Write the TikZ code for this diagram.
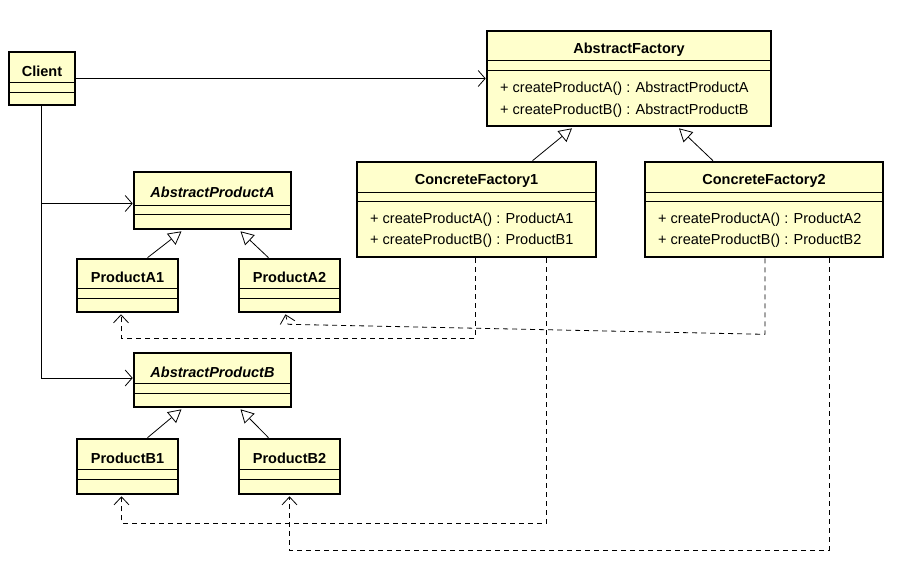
\documentclass[tikz,border=0pt]{standalone}
\usepackage{fontspec}
\setmainfont{Liberation Sans}
\usetikzlibrary{arrows.meta,calc}
\definecolor{clsfill}{RGB}{255,255,204}
\newcommand\umlcls[9]{%
  \node[cls, minimum width={(#4-#2)*1pt}, minimum height={(#5-#3)*1pt}] (#1) at ({(#2+#4)/2},{(#3+#5)/2}) {};
  \draw[cline] (#2,#6) -- (#4,#6) (#2,#7) -- (#4,#7);
  \node[#8] (#1-name) at ({(#2+#4)/2},{(#3+#6)/2+4}) {#9};
}
\begin{document}
\begin{tikzpicture}[x=1pt,y=-1pt,
  cls/.style={draw=black, line width=2.6pt, fill=clsfill, inner sep=0pt, rectangle},
  cline/.style={line width=0.9pt},
  ttl/.style={font=\fontsize{14.5}{17}\selectfont\bfseries, inner sep=0pt},
  ttli/.style={font=\fontsize{14.5}{17}\selectfont\bfseries\itshape, inner sep=0pt},
  op/.style={font=\fontsize{14.5}{17}\selectfont, inner sep=0pt, anchor=west},
  assoc/.style={line width=0.8pt, -{Straight Barb[length=7pt,width=16pt,line width=0.8pt]}},
  gen/.style={line width=0.8pt, -{Triangle[open,length=13pt,width=14pt,fill=white,line width=0.8pt]}},
  dep/.style={line width=0.8pt, dash pattern=on 5pt off 4pt, -{Straight Barb[length=8pt,width=15pt,line width=0.8pt]}},
]
\useasboundingbox (0,0) rectangle (901,574);

% classes
\umlcls{client}{9}{52}{75}{105}{82.5}{92}{ttl}{Client}
\umlcls{af}{487}{31}{771}{126}{60}{70}{ttl}{AbstractFactory}
\node[op] (af-op1) at (500,89) {+ createProductA() : AbstractProductA};
\node[op] (af-op2) at (500,111) {+ createProductB() : AbstractProductB};

\umlcls{cf1}{357}{162}{596}{257}{192}{201}{ttl}{ConcreteFactory1}
\node[op] (cf1-op1) at (370,220) {+ createProductA() : ProductA1};
\node[op] (cf1-op2) at (370,241) {+ createProductB() : ProductB1};

\umlcls{cf2}{645}{162}{883}{257}{192}{201}{ttl}{ConcreteFactory2}
\node[op] (cf2-op1) at (658,220) {+ createProductA() : ProductA2};
\node[op] (cf2-op2) at (658,241) {+ createProductB() : ProductB2};

\umlcls{apa}{134}{172}{291}{229}{205}{214}{ttli}{AbstractProductA}
\umlcls{pa1}{77}{259}{178}{312}{288}{298}{ttl}{ProductA1}
\umlcls{pa2}{239}{259}{340}{312}{288}{298}{ttl}{ProductA2}

\umlcls{apb}{134}{353}{291}{407}{383}{393}{ttli}{AbstractProductB}
\umlcls{pb1}{77}{439}{178}{494}{469}{479}{ttl}{ProductB1}
\umlcls{pb2}{239}{439}{340}{494}{469}{479}{ttl}{ProductB2}

% associations
\draw[assoc] (client.east) -- (client.east -| af.west);
\draw[assoc] ($(client.south)+(-1,0)$) |- ($(apa.west)+(0,3)$);
\draw[assoc] ($(client.south)+(-1,0)$) |- ($(apb.west)+(0,-2)$);

% generalizations
\draw[gen] ($(cf1.north)+(56,0)$) -- ($(af.south)+(-57,1)$);
\draw[gen] ($(cf2.north)+(-51,0)$) -- ($(af.south)+(50,1)$);
\draw[gen] ($(pa1.north)+(20,0)$) -- ($(apa.south)+(-31,1)$);
\draw[gen] ($(pa2.north)+(-21,0)$) -- ($(apa.south)+(28,1)$);
\draw[gen] ($(pb1.north)+(20,0)$) -- ($(apb.south)+(-31,1)$);
\draw[gen] ($(pb2.north)+(-21,0)$) -- ($(apb.south)+(28,1)$);

% dependencies
\draw[dep] ($(cf1.south)+(-1.5,0)$) -- ++(0,80) -| ($(pa1.south)+(-6.5,1)$);
\draw[dep] ($(cf2.south)+(1,0)$) -- ++(0,76) -- ($(pa2.south)+(-1.5,11)$) -- ($(pa2.south)+(-4,1)$);
\draw[dep] ($(cf1.south)+(70,0)$) -- ++(0,265) -| ($(pb1.south)+(-6,1)$);
\draw[dep] ($(cf2.south)+(65,0)$) -- ++(0,292) -| ($(pb2.south)+(0,1)$);
\end{tikzpicture}
\end{document}
